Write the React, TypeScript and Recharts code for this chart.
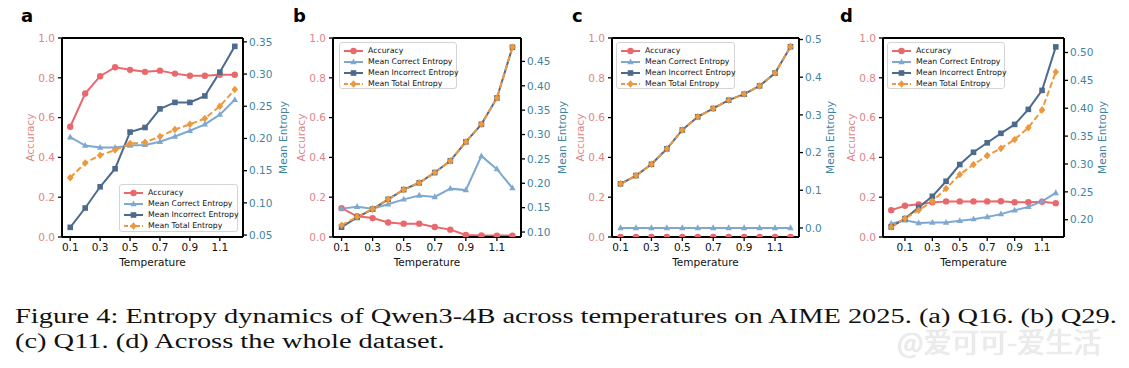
import React from 'react';
import { ComposedChart, Line, XAxis, YAxis, Legend, ReferenceLine } from 'recharts';

// temperatures
const temps = [0.1, 0.2, 0.3, 0.4, 0.5, 0.6, 0.7, 0.8, 0.9, 1.0, 1.1, 1.2];
const tempsAll = [0.0, 0.1, 0.2, 0.3, 0.4, 0.5, 0.6, 0.7, 0.8, 0.9, 1.0, 1.1, 1.2];
const tempTicks = [0.1, 0.3, 0.5, 0.7, 0.9, 1.1];
const accTicks = [0, 0.2, 0.4, 0.6, 0.8, 1.0];

// (a) Q16
const accA = [0.554, 0.721, 0.808, 0.853, 0.84, 0.83, 0.836, 0.821, 0.81, 0.81, 0.815, 0.815];
const correctA = [0.202, 0.189, 0.186, 0.186, 0.189, 0.19, 0.195, 0.203, 0.212, 0.222, 0.237, 0.26];
const incorrectA = [0.062, 0.092, 0.125, 0.153, 0.21, 0.217, 0.246, 0.256, 0.256, 0.266, 0.303, 0.343];
const totalA = [0.139, 0.162, 0.174, 0.182, 0.192, 0.194, 0.203, 0.214, 0.222, 0.231, 0.25, 0.276];
const entTicksA = [0.05, 0.1, 0.15, 0.2, 0.25, 0.3, 0.35];

// (b) Q29
const accB = [0.145, 0.104, 0.095, 0.073, 0.067, 0.067, 0.05, 0.037, 0.01, 0.008, 0.007, 0.007];
const correctB = [0.148, 0.152, 0.148, 0.157, 0.167, 0.175, 0.172, 0.189, 0.186, 0.256, 0.229, 0.19];
const incorrectB = [0.11, 0.13, 0.147, 0.167, 0.187, 0.201, 0.222, 0.246, 0.285, 0.321, 0.375, 0.479];
const totalB = [0.114, 0.131, 0.147, 0.167, 0.187, 0.201, 0.222, 0.246, 0.285, 0.321, 0.375, 0.479];
const entTicksB = [0.1, 0.15, 0.2, 0.25, 0.3, 0.35, 0.4, 0.45];

// (c) Q11
const accC = [0, 0, 0, 0, 0, 0, 0, 0, 0, 0, 0, 0];
const correctC = [0, 0, 0, 0, 0, 0, 0, 0, 0, 0, 0, 0];
const incorrectC = [0.117, 0.139, 0.169, 0.21, 0.26, 0.295, 0.317, 0.339, 0.355, 0.377, 0.411, 0.481];
const totalC = [0.117, 0.139, 0.169, 0.21, 0.26, 0.295, 0.317, 0.339, 0.355, 0.377, 0.411, 0.481];
const entTicksC = [0, 0.1, 0.2, 0.3, 0.4, 0.5];

// (d) whole dataset
const accD = [0.135, 0.157, 0.164, 0.174, 0.179, 0.179, 0.179, 0.179, 0.18, 0.175, 0.175, 0.177, 0.17];
const correctD = [0.193, 0.199, 0.194, 0.195, 0.195, 0.198, 0.201, 0.205, 0.21, 0.217, 0.223, 0.233, 0.248];
const incorrectD = [0.187, 0.202, 0.222, 0.242, 0.269, 0.299, 0.321, 0.338, 0.355, 0.371, 0.398, 0.432, 0.51];
const totalD = [0.187, 0.202, 0.217, 0.233, 0.256, 0.281, 0.299, 0.315, 0.328, 0.344, 0.365, 0.397, 0.465];
const entTicksD = [0.2, 0.25, 0.3, 0.35, 0.4, 0.45, 0.5];

const FONT = "'DejaVu Sans', sans-serif";
const ACC = '#e9686c';
const CORRECT = '#7ea8d2';
const INCORRECT = '#4c6b8c';
const TOTAL = '#ec983f';
const LEFT_TXT = '#dc8587';
const RIGHT_TXT = '#3f84a0';

const rows = (t: number[], acc: number[], cor: number[], inc: number[], tot: number[]) =>
  t.map((x, i) => ({ t: x, acc: acc[i], correct: cor[i], incorrect: inc[i], total: tot[i] }));

function marker(shape: string, cx: number, cy: number, color: string, key?: string) {
  if (shape === 'circle') return <circle key={key} cx={cx} cy={cy} r={3.2} fill={color} />;
  if (shape === 'triangle')
    return <polygon key={key} points={`${cx},${cy - 3.6} ${cx + 3.2},${cy + 2.2} ${cx - 3.2},${cy + 2.2}`} fill={color} />;
  if (shape === 'square') return <rect key={key} x={cx - 2.8} y={cy - 2.8} width={5.6} height={5.6} fill={color} />;
  return <polygon key={key} points={`${cx},${cy - 3.8} ${cx + 3.3},${cy} ${cx},${cy + 3.8} ${cx - 3.3},${cy}`} fill={color} />;
}

const series = [
  { key: 'acc', name: 'Accuracy', color: ACC, shape: 'circle', axis: 'acc', dash: undefined },
  { key: 'correct', name: 'Mean Correct Entropy', color: CORRECT, shape: 'triangle', axis: 'ent', dash: undefined },
  { key: 'incorrect', name: 'Mean Incorrect Entropy', color: INCORRECT, shape: 'square', axis: 'ent', dash: undefined },
  { key: 'total', name: 'Mean Total Entropy', color: TOTAL, shape: 'diamond', axis: 'ent', dash: '6 3' },
];

function LegendBox() {
  return (
    <div style={{
      width: '100%', height: '100%', boxSizing: 'border-box', border: '1px solid #d4d4d4', borderRadius: 3,
      background: 'rgba(255,255,255,0.85)', padding: '2px 0 0 4px',
    }}>
      {series.map(s => (
        <div key={s.key} style={{ display: 'flex', alignItems: 'center', height: 11 }}>
          <svg width={19} height={10} style={{ flex: 'none' }}>
            <line x1={0} x2={19} y1={5} y2={5} stroke={s.color} strokeWidth={2} strokeDasharray={s.dash ? '4 2' : undefined} />
            {marker(s.shape, 9.5, 5, s.color)}
          </svg>
          <span style={{ marginLeft: 5, fontSize: 7.75, fontFamily: FONT, color: '#111', whiteSpace: 'nowrap' }}>{s.name}</span>
        </div>
      ))}
    </div>
  );
}

const panels = [
  { id: 'a', data: rows(temps, accA, correctA, incorrectA, totalA), left: 0, plotW: 181, xDomain: [0.045, 1.255],
    entDomain: [0.047, 0.356], entTicks: entTicksA, digits: 2, entDx: 40, legend: { left: 119, top: 184, width: 119, height: 48 } },
  { id: 'b', data: rows(temps, accB, correctB, incorrectB, totalB), left: 271, plotW: 188, xDomain: [0.045, 1.255],
    entDomain: [0.0898, 0.498], entTicks: entTicksB, digits: 2, entDx: 41, legend: { left: 68, top: 42, width: 118, height: 47 } },
  { id: 'c', data: rows(temps, accC, correctC, incorrectC, totalC), left: 550, plotW: 187, xDomain: [0.045, 1.255],
    entDomain: [-0.024, 0.504], entTicks: entTicksC, digits: 1, entDx: 31, legend: { left: 66, top: 42, width: 119, height: 47 } },
  { id: 'd', data: rows(tempsAll, accD, correctD, incorrectD, totalD), left: 821, plotW: 181, xDomain: [-0.06, 1.26],
    entDomain: [0.169, 0.526], entTicks: entTicksD, digits: 2, entDx: 38, legend: { left: 66, top: 42, width: 118, height: 47 } },
];

const TOP = 38;
const BOTTOM = 237;
const H = 280;
const AXW = 62;

function Panel({ p }: { p: typeof panels[number] }) {
  const w = AXW + p.plotW + AXW;
  const midY = (TOP + BOTTOM) / 2;
  const rightX = AXW + p.plotW + p.entDx;
  return (
    <div style={{ position: 'absolute', left: p.left, top: 0 }}>
      <ComposedChart width={w} height={H} data={p.data} margin={{ top: TOP, right: 0, bottom: 0, left: 0 }}>
        <XAxis dataKey="t" type="number" domain={p.xDomain} ticks={tempTicks} allowDataOverflow
          tickFormatter={(v: number) => v.toFixed(1)} height={H - BOTTOM} tickSize={4} tickMargin={3}
          axisLine={{ stroke: '#000', strokeWidth: 2 }} tickLine={{ stroke: '#000', strokeWidth: 1.3 }}
          tick={{ fontSize: 10.5, fill: '#111', fontFamily: FONT }}
          label={() => (
            <text x={AXW + p.plotW / 2} y={266} textAnchor="middle" fontSize={10.5} fontFamily={FONT} fill="#111">Temperature</text>
          )} />
        <YAxis yAxisId="acc" orientation="left" width={AXW} domain={[0, 1]} ticks={accTicks} allowDataOverflow
          tickFormatter={(v: number) => v.toFixed(1)} tickSize={4} tickMargin={3}
          axisLine={{ stroke: '#000', strokeWidth: 2 }} tickLine={{ stroke: '#000', strokeWidth: 1.3 }}
          tick={{ fontSize: 10.5, fill: LEFT_TXT, fontFamily: FONT }}
          label={() => (
            <text x={AXW - 32} y={midY} transform={`rotate(-90 ${AXW - 32} ${midY})`} textAnchor="middle"
              dominantBaseline="central" fontSize={10.5} fontFamily={FONT} fill={LEFT_TXT}>Accuracy</text>
          )} />
        <YAxis yAxisId="ent" orientation="right" width={AXW} domain={p.entDomain} ticks={p.entTicks} allowDataOverflow
          tickFormatter={(v: number) => v.toFixed(p.digits)} tickSize={4} tickMargin={2}
          axisLine={{ stroke: '#000', strokeWidth: 2 }} tickLine={{ stroke: '#000', strokeWidth: 1.3 }}
          tick={{ fontSize: 10.5, fill: RIGHT_TXT, fontFamily: FONT }}
          label={() => (
            <text x={rightX} y={midY} transform={`rotate(-90 ${rightX} ${midY})`} textAnchor="middle"
              dominantBaseline="central" fontSize={10.5} fontFamily={FONT} fill={RIGHT_TXT}>Mean Entropy</text>
          )} />
        <ReferenceLine yAxisId="acc" y={1} stroke="#000" strokeWidth={2} />
        {series.map(s => (
          <Line key={s.key} yAxisId={s.axis} dataKey={s.key} name={s.name} stroke={s.color} strokeWidth={2}
            strokeDasharray={s.dash} isAnimationActive={false}
            dot={(d: any) => marker(s.shape, d.cx, d.cy, s.color, `${s.key}-${d.index}`)} activeDot={false} />
        ))}
        <Legend layout="vertical" align="center" verticalAlign="middle" content={() => <LegendBox />}
          wrapperStyle={{ left: p.legend.left, top: p.legend.top, width: p.legend.width, height: p.legend.height }} />
      </ComposedChart>
    </div>
  );
}

const letters = [
  { id: 'a', x: 21 },
  { id: 'b', x: 293 },
  { id: 'c', x: 572 },
  { id: 'd', x: 840 },
];

export default function App() {
  return (
    <div style={{ position: 'absolute', left: 0, top: 0, width: 1129, height: 368, background: '#fff', overflow: 'hidden' }}>
      {panels.map(p => <Panel key={p.id} p={p} />)}
      {letters.map(l => (
        <div key={l.id} style={{ position: 'absolute', left: l.x, top: 5, fontFamily: FONT, fontWeight: 'bold', fontSize: 18, color: '#000', lineHeight: '22px' }}>{l.id}</div>
      ))}
      <div style={{ position: 'absolute', left: 897, top: 331, fontFamily: "'Noto Sans CJK SC', sans-serif", fontSize: 28, color: '#ececec',
        textShadow: '0 0 1px #cfcfcf', whiteSpace: 'nowrap', lineHeight: '20px' }}>@爱可可-爱生活</div>
      <div style={{ position: 'absolute', left: 15, top: 304, fontFamily: "'Liberation Serif', 'Times New Roman', serif", fontSize: 20,
        lineHeight: '25px', color: '#111', whiteSpace: 'nowrap', transformOrigin: 'left top', transform: 'scaleX(1.42)' }}>
        <div>Figure 4: Entropy dynamics of Qwen3-4B across temperatures on AIME 2025. (a) Q16. (b) Q29.</div>
        <div>(c) Q11. (d) Across the whole dataset.</div>
      </div>
    </div>
  );
}
